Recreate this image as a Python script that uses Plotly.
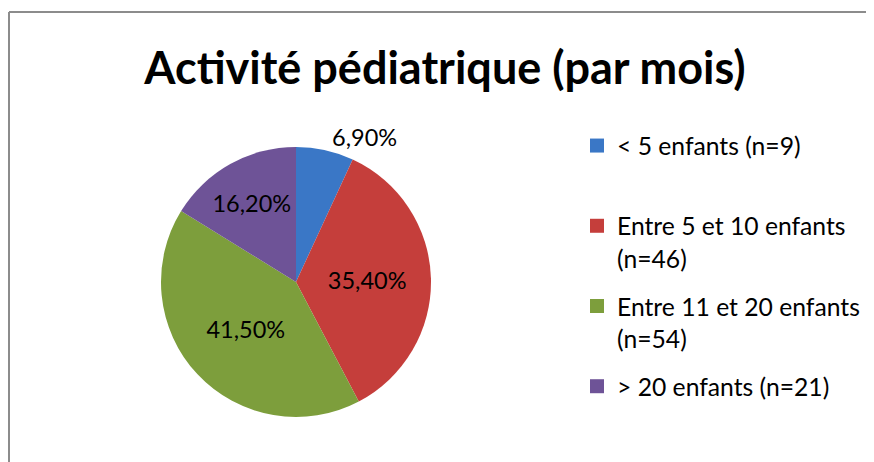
import plotly.graph_objects as go

categories = ["< 5 enfants (n=9)", "Entre 5 et 10 enfants<br>(n=46)",
              "Entre 11 et 20 enfants<br>(n=54)", "> 20 enfants (n=21)"]
legend_labels = ["< 5 enfants (n=9)<br> ", "Entre 5 et 10 enfants<br>(n=46)",
                 "Entre 11 et 20 enfants<br>(n=54)", "> 20 enfants (n=21)"]
percent_values = [6.90, 35.40, 41.50, 16.20]
percent_labels = ["6,90%", "35,40%", "41,50%", "16,20%"]
colors = ["#3A77C6", "#C53E3B", "#7D9E3C", "#6E5397"]
text_positions = ["outside", "inside", "inside", "inside"]

W, H = 874, 462
OFF = 8  # page body offset
cx, cy, r = 296 - OFF, 282 - OFF, 135

fig = go.Figure()
fig.add_trace(go.Pie(
    labels=categories,
    values=percent_values,
    text=percent_labels,
    textinfo="text",
    textposition=text_positions,
    insidetextorientation="horizontal",
    sort=False,
    direction="clockwise",
    rotation=0,
    marker=dict(colors=colors, line=dict(width=0)),
    textfont=dict(family="Lato", size=23.5, color="black"),
    outsidetextfont=dict(family="Lato", size=23.5, color="black"),
    domain=dict(x=[(cx - r) / W, (cx + r) / W], y=[1 - (cy + r) / H, 1 - (cy - r) / H]),
    hoverinfo="label+text",
    showlegend=False,
))

# legend entries (one per category)
for lab, col in zip(legend_labels, colors):
    fig.add_trace(go.Scatter(
        x=[None], y=[None], mode="markers", name=lab, legendgroup=lab,
        marker=dict(symbol="square", size=14, color=col),
        hoverinfo="skip",
    ))

fig.update_layout(
    width=W, height=H,
    margin=dict(l=0, r=0, t=0, b=0),
    paper_bgcolor="white",
    plot_bgcolor="white",
    xaxis=dict(visible=False),
    yaxis=dict(visible=False),
    title=dict(text="<b>Activité pédiatrique (par mois)</b>", x=437 / W, xanchor="center",
               y=1 - 60 / H, yanchor="middle",
               font=dict(family="Lato", size=45, color="black")),
    showlegend=True,
    legend=dict(x=569 / W, xanchor="left", y=1 - 115 / H, yanchor="top",
                valign="top", tracegroupgap=13,
                font=dict(family="Lato", size=24.7, color="black"),
                bgcolor="rgba(0,0,0,0)"),
    shapes=[
        dict(type="line", xref="paper", yref="paper", x0=1 / W, x1=1.0, y0=1 - 4 / H, y1=1 - 4 / H,
             line=dict(color="#8C8C8C", width=2)),
        dict(type="line", xref="paper", yref="paper", x0=1 / W, x1=1 / W, y0=0, y1=1 - 4 / H,
             line=dict(color="#8C8C8C", width=2)),
    ],
)

fig.write_html("out.html")
